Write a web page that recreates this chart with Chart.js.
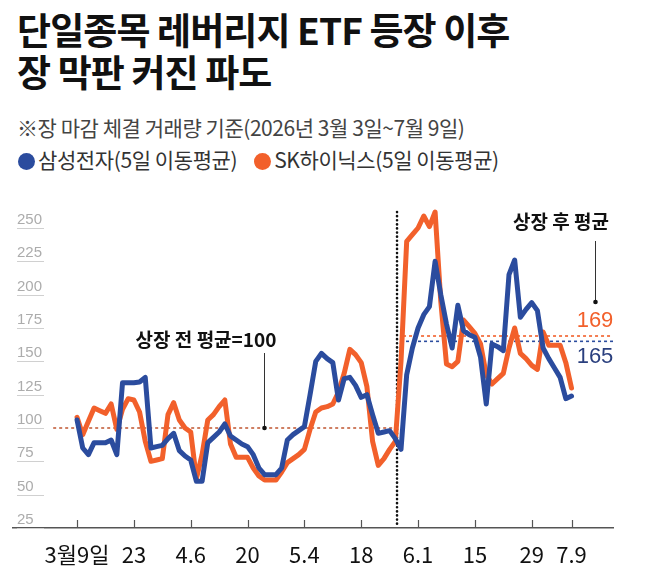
<!DOCTYPE html>
<html>
<head>
<meta charset="utf-8">
<script src="https://cdn.jsdelivr.net/npm/chart.js@4.4.1/dist/chart.umd.min.js"></script>
<style>
  html,body{margin:0;padding:0;background:#fff;}
  body{width:649px;height:573px;position:relative;overflow:hidden;font-family:'Noto Sans CJK KR','Noto Sans',sans-serif;}
  .t{position:absolute;left:17px;white-space:nowrap;color:#111;}
  #title{top:8px;font-size:37px;font-weight:700;line-height:42px;letter-spacing:-0.9px;}
  #sub{top:113px;font-size:21px;color:#444;letter-spacing:-0.45px;line-height:28px;}
  #legend{top:145px;font-size:21px;color:#333;letter-spacing:-0.4px;line-height:28px;left:18px;}
  .dot{display:inline-block;width:17px;height:17px;border-radius:50%;vertical-align:-2px;margin-right:3px;}
  canvas{position:absolute;left:0;top:0;}
</style>
</head>
<body>
<div id="title" class="t">단일종목 레버리지 ETF 등장 이후<br>장 막판 커진 파도</div>
<div id="sub" class="t">※장 마감 체결 거래량 기준(2026년 3월 3일~7월 9일)</div>
<div id="legend" class="t"><span class="dot" style="background:#2b4c9e"></span>삼성전자(5일 이동평균)<span style="display:inline-block;width:17px"></span><span class="dot" style="background:#f2602b"></span>SK하이닉스(5일 이동평균)</div>
<canvas id="c" width="649" height="573"></canvas>
<script>
// ---- data ----
const xTickIndex = [0, 10, 20, 30, 40, 50, 60, 70, 80, 87];
const xTickLabels = ['3월9일', '23', '4.6', '20', '5.4', '18', '6.1', '15', '29', '7.9'];
const yTicks = [25, 50, 75, 100, 125, 150, 175, 200, 225, 250];
const samsung = [106, 85, 80, 89, 89, 89, 91, 80, 134, 134, 134, 134.5, 138, 85, 86, 87, 92, 96, 83, 79,
  76, 60, 60, 89, 93, 97, 103, 94, 91, 88, 86, 80, 70, 65, 65, 65, 70, 91, 95, 98,
  101, 125, 150, 156, 152, 149, 121, 137, 138, 132, 123, 125, 110, 96, 97, 98, 92, 84, 140, 160,
  175, 185, 191, 225, 200, 178, 160, 192, 173, 170, 168, 153, 118, 163, 161, 158, 215, 226, 183, 189,
  194, 188, 160, 152, 145, 138, 122, 124];
const skhynix = [108, 95, 105, 115, 113, 111, 118, 99, 114, 122, 121, 112, 90, 75, 76, 77, 110, 119, 106, 100,
  97, 62, 80, 106, 110, 116, 121, 88, 78, 78, 78, 70, 64, 61, 61, 61, 67, 74, 77, 80,
  84, 99, 112, 115, 116, 118, 127, 141, 159, 155, 149, 131, 90, 72, 77, 84, 90, 150, 240, 245,
  250, 259, 251, 262, 195, 148, 146, 150, 181, 176, 171, 163, 140, 133, 137, 141, 160, 175, 156, 152,
  147, 144, 172, 162, 162, 162, 149, 130];
const preAverage = 100;
const postAverageSamsung = 165;
const postAverageHynix = 169;
const listingIndex = 56.3;

const BLUE = '#2b4c9e', ORANGE = '#f2602b';

function ln(ctx, x1, y1, x2, y2){ ctx.beginPath(); ctx.moveTo(x1,y1); ctx.lineTo(x2,y2); ctx.stroke(); }

const decor = {
  id: 'decor',
  beforeDatasetsDraw(chart){
    const {ctx, chartArea:a, scales:{x, y}} = chart;
    ctx.save();
    ctx.font = '15px "Liberation Sans", Arial, sans-serif';
    ctx.textAlign = 'left'; ctx.textBaseline = 'alphabetic';
    yTicks.forEach(v => {
      const py = Math.round(y.getPixelForValue(v)) + 0.5;
      ctx.strokeStyle = '#d0d0d0'; ctx.lineWidth = 1;
      ln(ctx, 17, py, 44, py);
      ctx.fillStyle = '#acacac';
      ctx.fillText(String(v), 17, py - 5);
    });
    ctx.strokeStyle = '#555'; ctx.lineWidth = 1.2;
    xTickIndex.forEach(i => {
      const px = Math.round(x.getPixelForValue(i)) + 0.5;
      ln(ctx, px, a.bottom, px, a.bottom - 8);
    });
    const lx = x.getPixelForValue(listingIndex);
    ctx.setLineDash([3, 3]); ctx.lineWidth = 1.6;
    ctx.strokeStyle = '#c4603d';
    const py100 = y.getPixelForValue(preAverage);
    ln(ctx, x.getPixelForValue(-4.2), py100, lx, py100);
    ctx.strokeStyle = ORANGE;
    const pyH = y.getPixelForValue(postAverageHynix);
    ln(ctx, lx + 6, pyH, a.right, pyH);
    ctx.strokeStyle = BLUE;
    const pyS = y.getPixelForValue(postAverageSamsung);
    ln(ctx, lx + 3, pyS, a.right, pyS);
    ctx.setLineDash([0.1, 4]); ctx.lineCap = 'round'; ctx.lineWidth = 2.6;
    ctx.strokeStyle = '#111';
    ln(ctx, lx, a.top + 4, lx, a.bottom - 1);
    ctx.restore();
  },
  afterDatasetsDraw(chart){
    const {ctx, scales:{x, y}} = chart;
    ctx.save();
    ctx.fillStyle = '#111';
    ctx.font = 'bold 19px "Noto Sans CJK KR", sans-serif';
    ctx.textAlign = 'center'; ctx.textBaseline = 'middle';
    ctx.fillText('상장 전 평균=100', 206, 340);
    ctx.fillText('상장 후 평균', 561, 222);
    ctx.strokeStyle = '#333'; ctx.lineWidth = 1;
    const p1x = Math.round(x.getPixelForValue(32.9)) + 0.5;
    const p1y = y.getPixelForValue(preAverage);
    ln(ctx, p1x, 353, p1x, p1y);
    ctx.beginPath(); ctx.arc(p1x, p1y, 2.3, 0, Math.PI*2); ctx.fill();
    const p2x = 595.5;
    ln(ctx, p2x, 241, p2x, 302);
    ctx.beginPath(); ctx.arc(p2x, 302, 2.3, 0, Math.PI*2); ctx.fill();
    ctx.font = '22px "Liberation Sans", Arial, sans-serif';
    ctx.fillStyle = ORANGE; ctx.fillText(String(postAverageHynix), 595, 321);
    ctx.fillStyle = '#2a3f7e'; ctx.fillText(String(postAverageSamsung), 595, 357);
    ctx.restore();
  }
};

new Chart(document.getElementById('c'), {
  type: 'line',
  data: {
    datasets: [
      { label: '삼성전자(5일 이동평균)', data: samsung.map((v, i) => ({x: i, y: v})),
        borderColor: BLUE, borderWidth: 5, pointRadius: 0, tension: 0, borderJoinStyle: 'round', borderCapStyle: 'round' },
      { label: 'SK하이닉스(5일 이동평균)', data: skhynix.map((v, i) => ({x: i, y: v})),
        borderColor: ORANGE, borderWidth: 5, pointRadius: 0, tension: 0, borderJoinStyle: 'round', borderCapStyle: 'round' }
    ]
  },
  options: {
    responsive: false, animation: false,
    layout: { padding: { left: 13, right: 36, top: 208, bottom: 0 } },
    plugins: { legend: { display: false }, tooltip: { enabled: false } },
    scales: {
      x: {
        type: 'linear', min: -11.27, max: 94.3,
        grid: { display: false },
        border: { display: true, color: '#555', width: 1.5 },
        afterBuildTicks: s => { s.ticks = xTickIndex.map(v => ({value: v})); },
        afterFit: s => { s.height = 45; },
        ticks: {
          autoSkip: false, maxRotation: 0, padding: 5, color: '#111',
          font: { family: '"Liberation Sans Narrow", "Noto Sans CJK KR", sans-serif', size: 22 },
          callback: v => { const k = xTickIndex.indexOf(v); return k >= 0 ? xTickLabels[k] : ''; }
        }
      },
      y: { display: false, min: 25, max: 265 }
    }
  },
  plugins: [decor]
});
</script>
</body>
</html>
